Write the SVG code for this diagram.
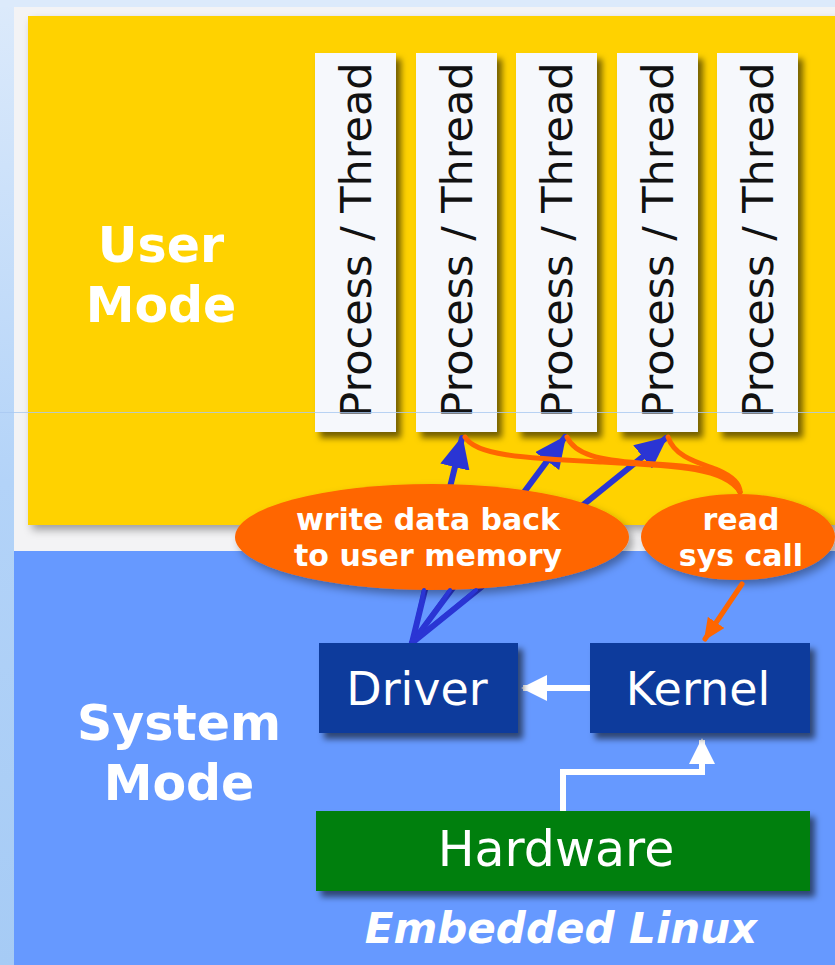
<svg xmlns="http://www.w3.org/2000/svg" width="835" height="965" viewBox="0 0 835 965">
  <defs>
    <linearGradient id="edge" x1="0" y1="0" x2="0" y2="1">
      <stop offset="0" stop-color="#dceafb"/>
      <stop offset="0.5" stop-color="#b3d3f8"/>
      <stop offset="1" stop-color="#a6cbf5"/>
    </linearGradient>
    <filter id="shadow" x="-10%" y="-10%" width="130%" height="130%">
      <feDropShadow dx="5" dy="6" stdDeviation="3" flood-color="#000" flood-opacity="0.55"/>
    </filter>
    <filter id="softShadow" x="-10%" y="-10%" width="130%" height="130%">
      <feDropShadow dx="4" dy="5" stdDeviation="4" flood-color="#000" flood-opacity="0.35"/>
    </filter>
    <marker id="blueHead" viewBox="0 0 32 30" refX="30" refY="15" markerWidth="32" markerHeight="30" orient="auto" markerUnits="userSpaceOnUse">
      <path d="M0,0 L32,15 L0,30 z" fill="#2a35d4"/>
    </marker>
    <marker id="orangeHead" viewBox="0 0 22 20" refX="20" refY="10" markerWidth="22" markerHeight="20" orient="auto" markerUnits="userSpaceOnUse">
      <path d="M0,0 L22,10 L0,20 z" fill="#ff6600"/>
    </marker>
    <marker id="whiteHead" viewBox="0 0 26 26" refX="24" refY="13" markerWidth="26" markerHeight="26" orient="auto" markerUnits="userSpaceOnUse">
      <path d="M0,0 L26,13 L0,26 z" fill="#ffffff"/>
    </marker>
  </defs>
  <style>
    .zone { font-family: "DejaVu Sans", Verdana, sans-serif; font-weight: bold; font-size: 49px; fill: #ffffff; text-anchor: middle; }
    .proc rect { fill: #f6f8fc; filter: url(#shadow); }
    .proc text { font-family: "DejaVu Sans", Verdana, sans-serif; font-size: 43px; fill: #111111; text-anchor: middle; }
    .bubble ellipse { fill: #ff6600; filter: url(#softShadow); }
    .bubble text { font-family: "DejaVu Sans", Verdana, sans-serif; font-weight: bold; font-size: 30px; fill: #ffffff; text-anchor: middle; }
    .sys rect { fill: #0a3a9c; filter: url(#shadow); }
    .sys text { font-family: "DejaVu Sans", Verdana, sans-serif; font-size: 46px; fill: #ffffff; text-anchor: middle; }
    .hw rect { fill: #007f0e; filter: url(#shadow); }
    .blue { stroke: #2a35d4; stroke-width: 6; fill: none; stroke-linecap: round; }
    .orange { stroke: #ff6600; stroke-width: 5; fill: none; stroke-linecap: round; }
    .white { stroke: #ffffff; stroke-width: 6; fill: none; }
  </style>

  <!-- page background -->
  <rect x="0" y="0" width="835" height="965" fill="url(#edge)"/>
  <rect x="0" y="0" width="835" height="7" fill="#dceafb"/>
  <!-- light frame behind the user area -->
  <rect x="14" y="7" width="821" height="544" fill="#f3f3f5"/>
  <!-- system mode area -->
  <rect x="14" y="551" width="821" height="414" fill="#6699ff"/>
  <!-- user mode area -->
  <rect id="user-area" x="28" y="16" width="807" height="509" fill="#ffd200" filter="url(#softShadow)"/>

  <g id="user-label">
    <text class="zone" x="161" y="262">User</text>
    <text class="zone" x="161" y="322">Mode</text>
  </g>
  <g id="system-label">
    <text class="zone" x="179" y="740">System</text>
    <text class="zone" x="179" y="800">Mode</text>
  </g>

  <!-- process / thread columns -->
  <g id="proc1" class="proc">
    <rect x="315" y="53" width="81" height="379"/>
    <text transform="translate(371,240) rotate(-90)">Process / Thread</text>
  </g>
  <g id="proc2" class="proc">
    <rect x="416" y="53" width="81" height="379"/>
    <text transform="translate(472,240) rotate(-90)">Process / Thread</text>
  </g>
  <g id="proc3" class="proc">
    <rect x="516" y="53" width="81" height="379"/>
    <text transform="translate(572,240) rotate(-90)">Process / Thread</text>
  </g>
  <g id="proc4" class="proc">
    <rect x="617" y="53" width="81" height="379"/>
    <text transform="translate(673,240) rotate(-90)">Process / Thread</text>
  </g>
  <g id="proc5" class="proc">
    <rect x="717" y="53" width="81" height="379"/>
    <text transform="translate(773,240) rotate(-90)">Process / Thread</text>
  </g>

  <!-- thin guide line -->
  <line x1="0" y1="412.5" x2="835" y2="412.5" stroke="#a9c9f2" stroke-width="1" opacity="0.8"/>

  <g id="connectors">
    <!-- driver writes back to the processes -->
    <path class="blue" d="M412,643 L462,438" marker-end="url(#blueHead)"/>
    <path class="blue" d="M412,643 L565,437" marker-end="url(#blueHead)"/>
    <path class="blue" d="M412,643 L666,438" marker-end="url(#blueHead)"/>
    <!-- system calls from the processes -->
    <path class="orange" d="M465,437 C475,455 520,458 600,462 C680,466 725,468 740,492"/>
    <path class="orange" d="M567,437 C575,455 600,460 640,463 C700,466 728,470 740,492"/>
    <path class="orange" d="M668,437 C675,458 700,463 718,470 C734,477 740,485 740,492"/>
  </g>

  <g id="bubble-write" class="bubble">
    <ellipse cx="432" cy="537" rx="197" ry="53"/>
    <text x="428" y="530">write data back</text>
    <text x="428" y="566">to user memory</text>
  </g>
  <g id="bubble-read" class="bubble">
    <ellipse cx="738" cy="537" rx="97" ry="43"/>
    <text x="741" y="530">read</text>
    <text x="741" y="566">sys call</text>
  </g>

  <g id="connectors-lower">
    <!-- blue fan lines below the bubble -->
    <path class="blue" style="stroke-width:4" d="M412,643 L424,590"/>
    <path class="blue" style="stroke-width:4" d="M412,643 L450,590"/>
    <path class="blue" style="stroke-width:4" d="M412,643 L476,590"/>
    <!-- read sys call to kernel -->
    <path class="orange" d="M742,584 L705,639" marker-end="url(#orangeHead)"/>
    <!-- kernel to driver -->
    <path class="white" d="M590,688 L523,688" marker-end="url(#whiteHead)"/>
    <!-- hardware to kernel -->
    <path class="white" d="M563,811 L563,772 L702,772 L702,740" marker-end="url(#whiteHead)"/>
  </g>

  <g id="driver" class="sys">
    <rect x="319" y="643" width="199" height="90"/>
    <text x="417" y="705">Driver</text>
  </g>
  <g id="kernel" class="sys">
    <rect x="590" y="643" width="220" height="90"/>
    <text x="698" y="705">Kernel</text>
  </g>
  <g id="hardware" class="hw">
    <rect x="316" y="811" width="494" height="80"/>
    <text x="556" y="866" style="font-family:'DejaVu Sans', Verdana, sans-serif; font-size:49px; fill:#ffffff; text-anchor:middle;">Hardware</text>
  </g>

  <text x="561" y="943" style="font-family:'DejaVu Sans', Verdana, sans-serif; font-weight:bold; font-style:italic; font-size:42px; fill:#ffffff; text-anchor:middle;">Embedded Linux</text>
</svg>
